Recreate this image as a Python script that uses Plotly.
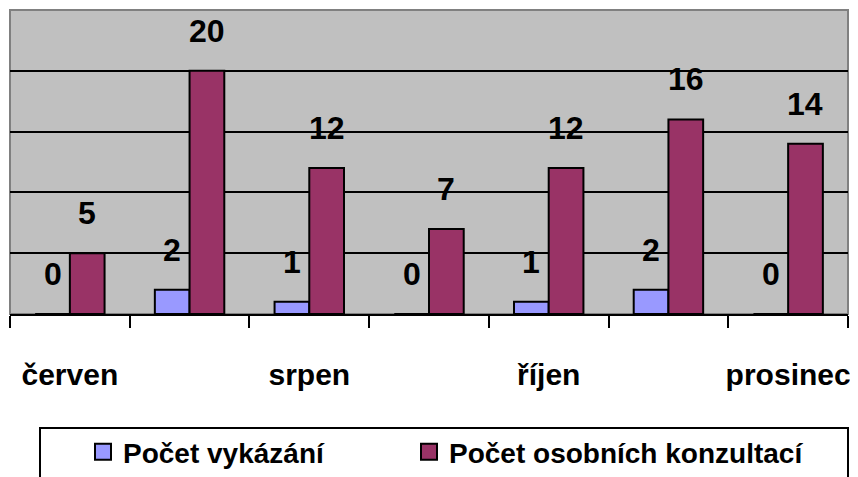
import plotly.graph_objects as go

categories = ["červen", "červenec", "srpen", "září", "říjen", "listopad", "prosinec"]
tick_labels = ["červen", "", "srpen", "", "říjen", "", "prosinec"]
vykazani = [0, 2, 1, 0, 1, 2, 0]
konzultace = [5, 20, 12, 7, 12, 16, 14]
series_names = ["Počet vykázání", "Počet osobních konzultací"]
colors = ["#9999FF", "#993366"]

FONT = "Liberation Sans, Arial, sans-serif"

fig = go.Figure()
for i, (name, vals, col) in enumerate(zip(series_names, [vykazani, konzultace], colors)):
    fig.add_trace(go.Bar(
        x=categories, y=vals, name=name, showlegend=False,
        marker=dict(color=col, line=dict(color="black", width=2)),
    ))
    # legend proxy with larger square icon
    fig.add_trace(go.Scatter(
        x=[None], y=[None], mode="markers", name=name,
        legend="legend" if i == 0 else "legend2",
        marker=dict(symbol="square", size=16, color=col, line=dict(color="black", width=2)),
    ))

# data labels
for vals, shift in [(vykazani, -17.25), (konzultace, 17.25)]:
    for c, v in zip(categories, vals):
        fig.add_annotation(
            x=c, y=v, text=str(v), showarrow=False, xshift=shift, yshift=40,
            yanchor="middle", xanchor="center",
            font=dict(family=FONT, size=32, color="black", weight="bold"),
        )

# plot-area border (grey)
fig.add_shape(type="rect", xref="paper", yref="paper", x0=0, x1=1, y0=0, y1=1,
              line=dict(color="#808080", width=2), layer="below")
# legend frame
fig.add_shape(type="rect", xref="paper", yref="paper",
              x0=(40 - 10) / 838, x1=(848 - 10) / 838, y0=-0.65, y1=(314 - 428) / 304,
              line=dict(color="black", width=2))

leg_font = dict(family=FONT, size=28, color="black", weight="bold")
FIG_H = 469
leg_y = 1 - 444 / FIG_H
# page body has an 8px margin: figure is sized/margined so that the plot area
# lands at x 10..848, y 10..314 of the window
fig.update_layout(
    width=850, height=FIG_H,
    margin=dict(l=2, r=10, t=2, b=163),
    paper_bgcolor="white", plot_bgcolor="#C0C0C0",
    barmode="group", bargap=0.42, bargroupgap=0,
    font=dict(family=FONT, color="black"),
    legend=dict(
        orientation="h", x=(83 - 10) / 838, xanchor="left",
        y=leg_y, yref="container", yanchor="middle",
        font=leg_font, bgcolor="rgba(0,0,0,0)", borderwidth=0,
    ),
    legend2=dict(
        orientation="h", x=(409 - 10) / 838, xanchor="left",
        y=leg_y, yref="container", yanchor="middle",
        font=leg_font, bgcolor="rgba(0,0,0,0)", borderwidth=0,
    ),
    xaxis=dict(
        type="category", tickmode="array", tickvals=categories, ticktext=tick_labels,
        tickson="boundaries", ticks="outside", ticklen=12, tickwidth=2, tickcolor="black",
        showline=True, linecolor="black", linewidth=2, showgrid=False,
        tickfont=dict(family=FONT, size=30, color="black", weight="bold"),
        tickangle=0, automargin=False, ticklabelstandoff=33,
    ),
    yaxis=dict(
        range=[0, 25], tickmode="array", tickvals=[5, 10, 15, 20],
        showticklabels=False, showgrid=True, gridcolor="black", gridwidth=2,
        zeroline=False, showline=False, ticks="", automargin=False,
    ),
)

fig.write_html("out.html")
